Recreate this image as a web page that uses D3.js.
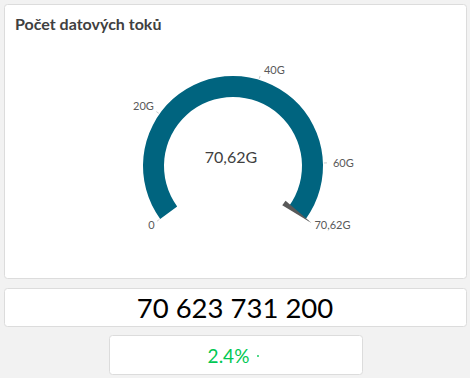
<!DOCTYPE html>
<html>
<head>
<meta charset="utf-8">
<script src="https://cdn.jsdelivr.net/npm/d3@7"></script>
<style>
  html, body { margin: 0; padding: 0; background: #f2f2f2; }
  body { width: 470px; height: 378px; overflow: hidden; }
</style>
</head>
<body>
<svg id="chart" width="470" height="378"></svg>
<script>
// Gauge data
const title = "Počet datových toků";
const gaugeValue = 70.62;          // in G
const gaugeMin = 0;
const gaugeMax = 70.62;
const tickValues = [0, 20, 40, 60, 70.62];
const tickLabels = ["0", "20G", "40G", "60G", "70,62G"];
const centerLabel = "70,62G";
const kpiLabel = "70 623 731 200";
const changeLabel = "2.4%";

const FONT = "Lato, 'Open Sans', sans-serif";
const svg = d3.select("#chart");

// Panels
const panel = (x, y, w, h) => svg.append("rect")
  .attr("x", x + 0.5).attr("y", y + 0.5).attr("width", w).attr("height", h)
  .attr("rx", 3).attr("fill", "#ffffff").attr("stroke", "#dcdcdc");
panel(4, 4, 462, 274);
panel(4, 288, 462, 38);
panel(109, 335, 253, 39);

svg.append("text").attr("x", 15).attr("y", 30)
  .attr("font-family", FONT).attr("font-weight", "bold").attr("font-size", 16)
  .attr("fill", "#404040").text(title);

// Gauge
const cx = 233, cy = 166, rOuter = 90, rInner = 69;
const angle = d3.scaleLinear().domain([gaugeMin, gaugeMax]).range([-0.7 * Math.PI, 0.7 * Math.PI]);
const g = svg.append("g").attr("transform", `translate(${cx},${cy})`);

g.append("path")
  .attr("d", d3.arc().innerRadius(rInner).outerRadius(rOuter)
    .startAngle(angle(gaugeMin)).endAngle(angle(gaugeValue))())
  .attr("fill", "#00647f");

// ticks + labels
const ticks = g.selectAll(".tick").data(tickValues).enter().append("g").attr("class", "tick");
ticks.append("line")
  .attr("x1", d => (rOuter + 1) * Math.sin(angle(d))).attr("y1", d => -(rOuter + 1) * Math.cos(angle(d)))
  .attr("x2", d => (rOuter + 4) * Math.sin(angle(d))).attr("y2", d => -(rOuter + 4) * Math.cos(angle(d)))
  .attr("stroke", "#cccccc").attr("stroke-width", 1);
ticks.append("text")
  .attr("x", d => (rOuter + 7) * Math.sin(angle(d)) + (Math.sin(angle(d)) > 0 ? 3 : 0))
  .attr("y", d => -(rOuter + 6) * Math.cos(angle(d)))
  .attr("dy", d => { const c = Math.cos(angle(d)); return c > 0.3 ? "0" : (c < -0.3 ? "0.6em" : "0.35em"); })
  .attr("text-anchor", d => Math.sin(angle(d)) < 0 ? "end" : "start")
  .attr("font-family", FONT).attr("font-size", 11).attr("fill", "#595959")
  .text((d, i) => tickLabels[i]);

// needle
const a = angle(gaugeValue), r0 = 63, r1 = 97, hw = 0.045;
const pt = (r, t) => [r * Math.sin(t), -r * Math.cos(t)];
g.append("path")
  .attr("d", d3.line()([pt(r0, a - hw), pt(r1, a), pt(r0, a + hw)]) + "Z")
  .attr("fill", "#595959");

g.append("text").attr("x", -2).attr("y", -3).attr("text-anchor", "middle")
  .attr("font-family", FONT).attr("font-size", 16).attr("fill", "#404040")
  .text(centerLabel);

// KPI
svg.append("text").attr("x", 235).attr("y", 318).attr("text-anchor", "middle")
  .attr("font-family", FONT).attr("font-size", 27.5).attr("fill", "#000000")
  .text(kpiLabel);

svg.append("text").attr("x", 228.5).attr("y", 363).attr("text-anchor", "middle")
  .attr("font-family", FONT).attr("font-size", 19).attr("fill", "#00c853")
  .text(changeLabel);
svg.append("circle").attr("cx", 258).attr("cy", 356).attr("r", 0.9).attr("fill", "#00c853");
</script>
</body>
</html>
